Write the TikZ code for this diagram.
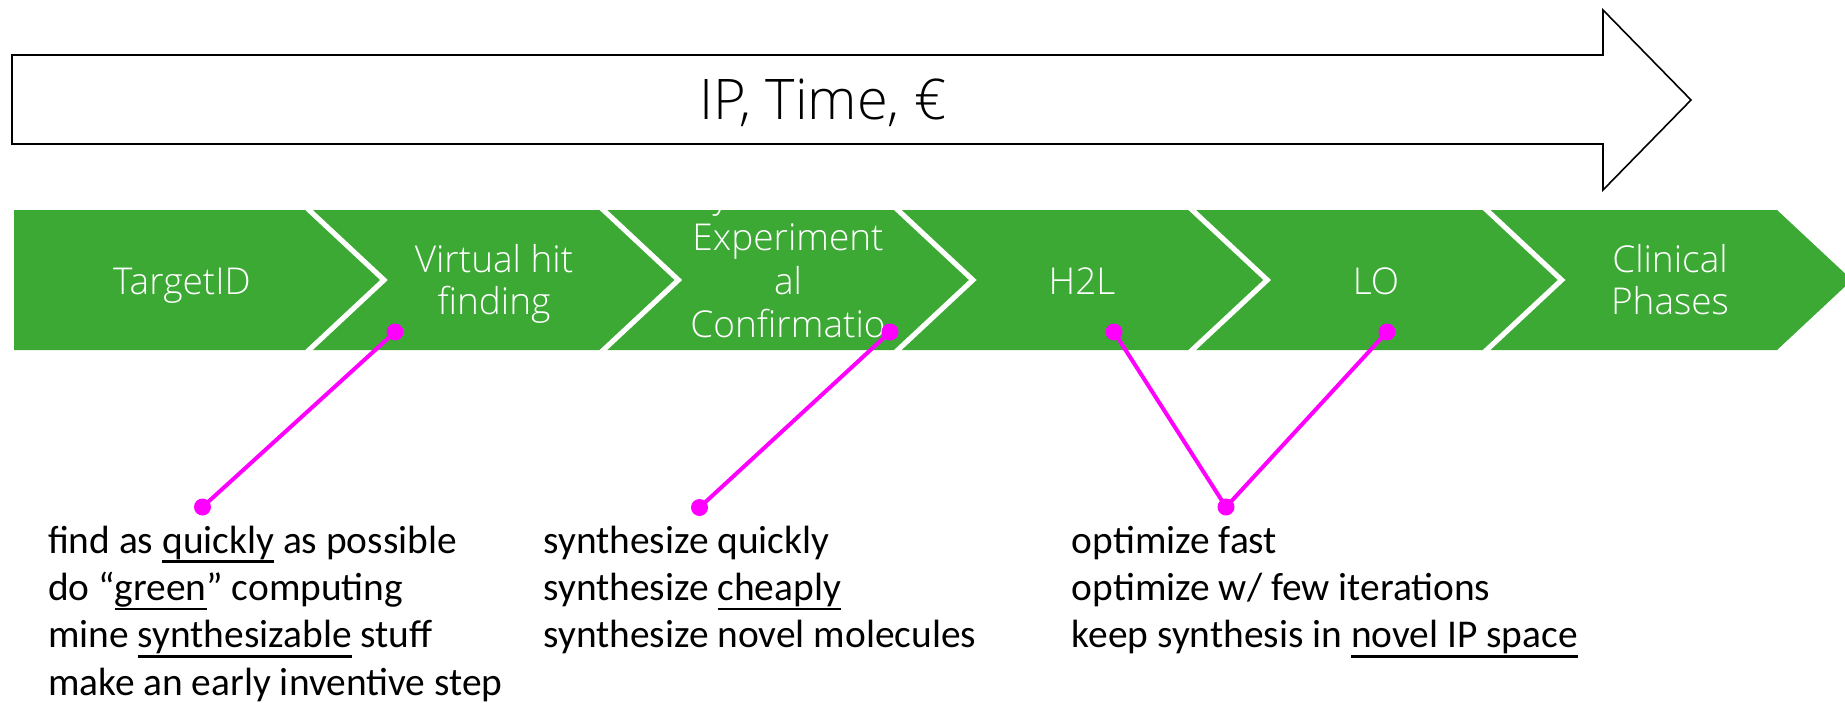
\documentclass[tikz,border=0pt]{standalone}
\usepackage{fontspec}
\setmainfont{Carlito}
\IfFontExistsTF{Open Sans Light}{\newfontfamily\lightfont{Open Sans Light}}{\newfontfamily\lightfont{Open Sans}}
\definecolor{chevgreen}{HTML}{3CA935}
\definecolor{hotpink}{HTML}{FF00FF}
\newcommand\myul[1]{\setbox0=\hbox{#1}\rlap{\rule[-9.6pt]{\wd0}{2.7pt}}\box0\relax}
\begin{document}
\begin{tikzpicture}[x=1pt,y=-1pt,
  chev/.style={fill=chevgreen, draw=none},
  chevtext/.style={text=white, font=\lightfont\fontsize{37}{43.5}\selectfont, inner sep=0pt, anchor=base},
  arrowtext/.style={text=black, font=\lightfont\fontsize{56}{62}\selectfont, inner sep=0pt, anchor=base},
  note/.style={font=\fontsize{39.4}{47.3}\selectfont, inner sep=0pt, anchor=base west, text=black},
  dot/.style={circle, fill=hotpink, draw=none, inner sep=0pt, minimum size=17pt},
  conn/.style={draw=hotpink, line width=4pt}]
\useasboundingbox (0,0) rectangle (1845,702);
\begin{scope}
\clip (0,0) rectangle (1845,702);
% top arrow
\draw[line width=1.6pt, fill=white, line join=miter] (12,55) -- (1603,55) -- (1603,10) -- (1691,100) -- (1603,190) -- (1603,144) -- (12,144) -- cycle;
\node[arrowtext] (iptime) at (823,119) {IP, Time, €};
% chevrons
\fill[chev] (14,210) -- (305,210) -- (380,280) -- (305,350) -- (14,350) -- cycle;
\fill[chev] (313,210) -- (599.4,210) -- (674.4,280) -- (599.4,350) -- (313,350) -- (388,280) -- cycle;
\fill[chev] (607.4,210) -- (893.8,210) -- (968.8,280) -- (893.8,350) -- (607.4,350) -- (682.4,280) -- cycle;
\fill[chev] (901.8,210) -- (1188.2,210) -- (1263.2,280) -- (1188.2,350) -- (901.8,350) -- (976.8,280) -- cycle;
\fill[chev] (1196.2,210) -- (1482.6,210) -- (1557.6,280) -- (1482.6,350) -- (1196.2,350) -- (1271.2,280) -- cycle;
\fill[chev] (1490.6,210) -- (1777,210) -- (1852,280) -- (1777,350) -- (1490.6,350) -- (1565.6,280) -- cycle;
\end{scope}
% chevron texts
\node[chevtext] (t0) at (182,294) {TargetID};
\node[chevtext] (t1a) at (494,272) {Virtual hit};
\node[chevtext] (t1b) at (494,314.5) {finding};
\begin{scope}
\clip (600,210) rectangle (900,350);
\node[chevtext] (t2y) at (721,207) {y};
\end{scope}
\node[chevtext] (t2a) at (788,250.5) {Experiment};
\node[chevtext] (t2b) at (788,294) {al};
\node[chevtext] (t2c) at (788,337.5) {Confirmatio};
\node[chevtext] (t3) at (1082,294) {H2L};
\node[chevtext] (t4) at (1376,294) {LO};
\node[chevtext] (t5a) at (1670,272) {Clinical};
\node[chevtext] (t5b) at (1670,314.5) {Phases};
% notes
\node[note] (a1) at (47.8,553.5) {find as \myul{quickly} as possible};
\node[note] (a2) at (47.8,600.7) {do “\myul{green}” computing};
\node[note] (a3) at (47.8,647.9) {mine \myul{synthesizable} stuff};
\node[note] (a4) at (47.8,695.1) {make an early inventive step};
\node[note] (b1) at (543.4,553.5) {synthesize quickly};
\node[note] (b2) at (543.4,600.7) {synthesize \myul{cheaply}};
\node[note] (b3) at (543.4,647.9) {synthesize novel molecules};
\node[note] (c1) at (1071.7,553.5) {optimize fast};
\node[note] (c2) at (1071.7,600.7) {optimize w/ few iterations};
\node[note] (c3) at (1071.7,647.9) {keep synthesis in \myul{novel IP space}};
% connectors
\node[dot] (p1) at (395,332) {};
\node[dot] (q1) at (202.5,507) {};
\node[dot] (p2) at (890,332) {};
\node[dot] (q2) at (699.5,507.5) {};
\node[dot] (p3) at (1114,332) {};
\node[dot] (p4) at (1387,332) {};
\node[dot] (q3) at (1226,507) {};
\draw[conn] (p1.center) -- (q1.center);
\draw[conn] (p2.center) -- (q2.center);
\draw[conn] (p3.center) -- (q3.center);
\draw[conn] (p4.center) -- (q3.center);
\end{tikzpicture}
\end{document}
